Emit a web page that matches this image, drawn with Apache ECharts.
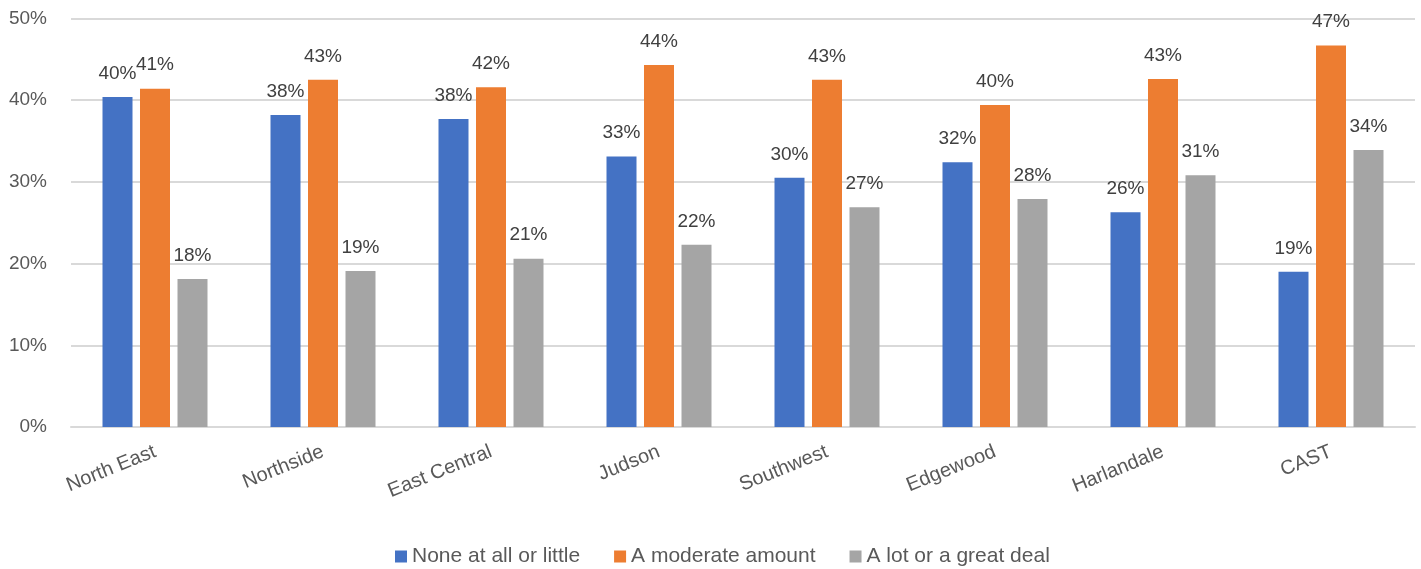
<!DOCTYPE html>
<html><head><meta charset="utf-8">
<script src="https://cdn.jsdelivr.net/npm/echarts@6/dist/echarts.min.js"></script>
<style>html,body{margin:0;padding:0;background:#fff}#c{width:1421px;height:569px}</style>
</head><body><div id="c"></div>
<script>
const categories = ['North East','Northside','East Central','Judson','Southwest','Edgewood','Harlandale','CAST'];
const seriesNames = ['None at all or little','A moderate amount','A lot or a great deal'];
const noneValues = [40.4, 38.2, 37.7, 33.1, 30.5, 32.4, 26.3, 19.0];
const moderateValues = [41.4, 42.5, 41.6, 44.3, 42.5, 39.4, 42.6, 46.7];
const lotValues = [18.1, 19.1, 20.6, 22.3, 26.9, 27.9, 30.8, 33.9];
const noneLabels = ['40%','38%','38%','33%','30%','32%','26%','19%'];
const moderateLabels = ['41%','43%','42%','44%','43%','40%','43%','47%'];
const lotLabels = ['18%','19%','21%','22%','27%','28%','31%','34%'];
const yTicks = [0, 10, 20, 30, 40, 50];

const colors = ['#4472C4','#ED7D31','#A5A5A5'];
const font = 'Liberation Sans, Arial, sans-serif';
function mk(name, vals, labels, color){
  return {
    name, type:'bar', data: vals, barWidth: 30, barGap: '25%',
    itemStyle:{color},
    label:{show:true, position:'top', distance: 14, color:'#404040', fontSize:19, fontFamily:font,
      formatter: p => labels[p.dataIndex]}
  };
}
const chart = echarts.init(document.getElementById('c'));
chart.setOption({
  animation:false,
  color: colors,
  grid:{left:71, right:6, top:18.5, bottom:142, containLabel:false},
  legend:{top:541, left:390, itemWidth:12, itemHeight:12, itemGap:34, icon:'rect',
    textStyle:{color:'#595959', fontSize:21, fontFamily:font, padding:[0,0,0,0]}, data: seriesNames},
  xAxis:{type:'category', data: categories,
    axisLine:{lineStyle:{color:'#d9d9d9', width:2}}, axisTick:{show:false},
    axisLabel:{rotate:22, color:'#595959', fontSize:20, fontFamily:font, margin:24, interval:0}},
  yAxis:{type:'value', min:yTicks[0], max:yTicks[yTicks.length-1], interval:10,
    axisLine:{show:false}, axisTick:{show:false},
    splitLine:{lineStyle:{color:'#d9d9d9', width:2}},
    axisLabel:{color:'#595959', fontSize:19, fontFamily:font, margin:24, formatter: v => v + '%'}},
  series:[
    mk(seriesNames[0], noneValues, noneLabels, colors[0]),
    mk(seriesNames[1], moderateValues, moderateLabels, colors[1]),
    mk(seriesNames[2], lotValues, lotLabels, colors[2])
  ]
});
</script></body></html>
